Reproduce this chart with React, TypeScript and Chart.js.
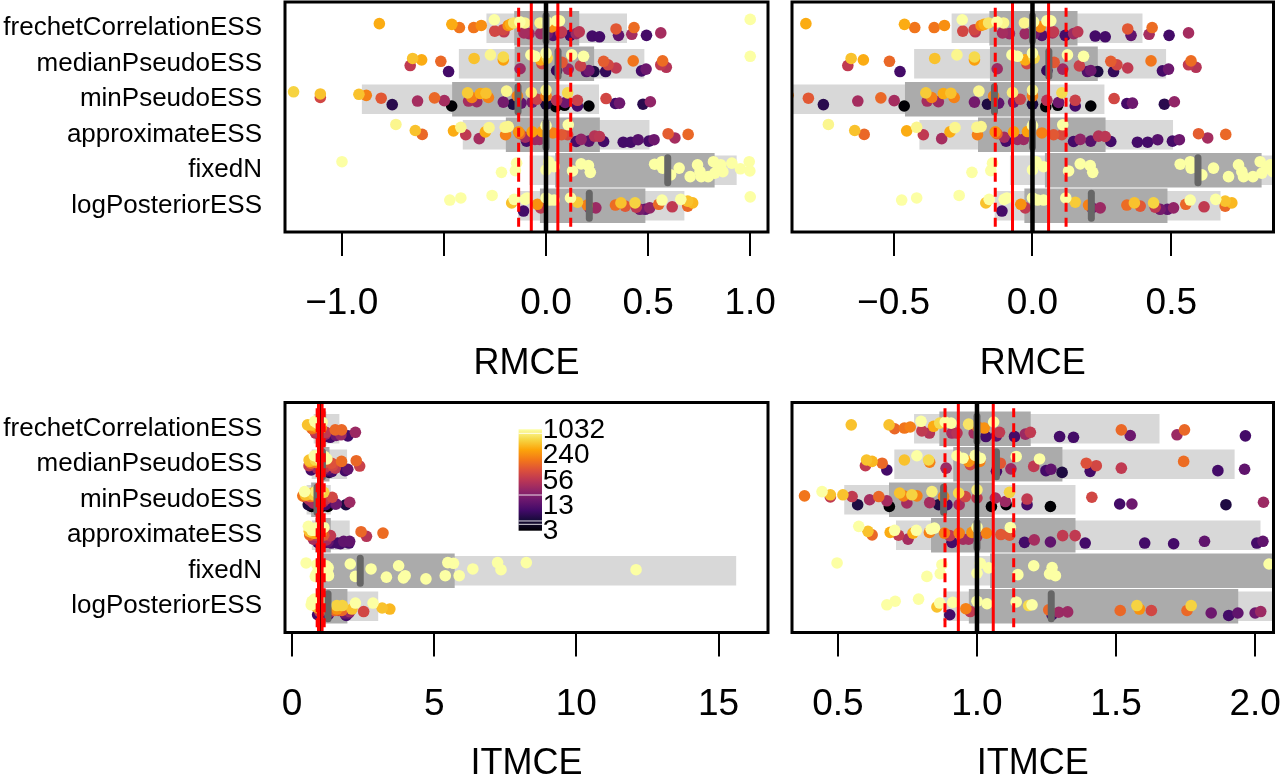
import React, { useEffect, useRef } from 'react';
import { Chart, registerables } from 'chart.js';

Chart.register(...registerables);
Chart.defaults.font.family = '"Liberation Sans", Arial, Helvetica, sans-serif';
Chart.defaults.color = '#000000';

// ---------------- categories ----------------
const categories = [
  'frechetCorrelationESS',
  'medianPseudoESS',
  'minPseudoESS',
  'approximateESS',
  'fixedN',
  'logPosteriorESS',
];

// ---------------- RMCE summaries ----------------
const rmceOuterLo = [-0.29, -0.425, -0.9, -0.406, -0.08, -0.135];
const rmceOuterHi = [0.395, 0.48, 0.258, 0.505, 0.932, 0.676];
const rmceInnerLo = [-0.154, -0.152, -0.458, -0.195, 0.046, -0.028];
const rmceInnerHi = [0.161, 0.234, 0.06, 0.262, 0.824, 0.485];
const rmceMedian = [0.0, 0.059, -0.137, 0.0, 0.596, 0.212];
const rmceRefCenter = 0;
const rmceRefSolid = [-0.072, 0.058];
const rmceRefDashed = [-0.134, 0.121];

// ---------------- ITMCE summaries ----------------
const itmceOuterLo = [0.775, 0.704, 0.524, 0.71, 0.94, 0.88];
const itmceOuterHi = [1.655, 1.925, 1.353, 2.018, 15.61, 3.02];
const itmceInnerLo = [0.866, 0.916, 0.685, 0.836, 1.048, 0.972];
const itmceInnerHi = [1.192, 1.306, 1.06, 1.353, 5.71, 1.938];
const itmceMedian = [1.0, 1.07, 0.88, 1.0, 2.4, 1.267];
const itmceRefCenter = 1;
const itmceRefSolid = [0.933, 1.0585];
const itmceRefDashed = [0.885, 1.132];

// ---------------- colour legend (ESS) ----------------
const legendTicks = [1032, 240, 56, 13, 3];

// ---------------- axis ticks ----------------
const rmceWideTicks = [-1, -0.5, 0, 0.5, 1];
const rmceWideTickLabels = ['\u22121.0', '', '0.0', '0.5', '1.0'];
const rmceZoomTicks = [-0.5, 0, 0.5];
const rmceZoomTickLabels = ['\u22120.5', '0.0', '0.5'];
const itmceWideTicks = [0, 5, 10, 15];
const itmceWideTickLabels = ['0', '5', '10', '15'];
const itmceZoomTicks = [0.5, 1, 1.5, 2];
const itmceZoomTickLabels = ['0.5', '1.0', '1.5', '2.0'];

// ---------------- RMCE points: [value, ESS, vertical jitter] ----------------
type P = [number, number, number];
const rmceFrechet: P[] = [
  [-0.816, 350, -0.13], [-0.461, 350, -0.11], [-0.424, 170, -0.02], [-0.354, 170, -0.02],
  [-0.317, 240, -0.08], [-0.253, 1032, -0.24], [-0.251, 80, 0.08], [-0.21, 80, 0.04],
  [-0.206, 60, 0.1], [-0.185, 240, -0.08], [-0.174, 350, -0.11], [-0.158, 700, -0.15],
  [-0.128, 1032, -0.18], [-0.104, 900, -0.15], [-0.108, 40, 0.13], [-0.083, 35, 0.15],
  [-0.026, 35, 0.15], [-0.029, 900, -0.15], [0.004, 1032, -0.18], [0.006, 20, 0.15],
  [0.028, 240, -0.04], [0.034, 12, 0.2], [0.052, 1032, -0.21], [0.066, 1032, -0.21],
  [0.072, 40, 0.13], [0.076, 60, 0.1], [0.118, 10, 0.2], [0.148, 35, 0.15],
  [0.163, 55, 0.1], [0.226, 10, 0.22], [0.262, 10, 0.24], [0.343, 110, 0.02],
  [0.355, 15, 0.2], [0.42, 40, 0.17], [0.431, 150, -0.02], [0.492, 10, 0.2],
  [0.562, 40, 0.13], [1.0, 1032, -0.25],
];
const rmceMedianPseudo: P[] = [
  [-0.665, 60, 0.05], [-0.653, 450, -0.15], [-0.609, 350, -0.11], [-0.515, 140, -0.07],
  [-0.477, 10, 0.22], [-0.352, 450, -0.15], [-0.272, 900, -0.25], [-0.209, 600, -0.19],
  [-0.209, 300, -0.11], [-0.127, 35, 0.14], [-0.074, 1032, -0.25], [-0.054, 1032, -0.21],
  [-0.026, 350, -0.11], [-0.02, 80, 0.0], [0.0, 1032, -0.3], [0.006, 600, -0.16],
  [0.052, 8, 0.19], [0.078, 110, -0.04], [0.109, 35, 0.15], [0.126, 1032, -0.25],
  [0.169, 70, 0.06], [0.184, 1032, -0.21], [0.198, 12, 0.22], [0.21, 18, 0.19],
  [0.235, 6, 0.22], [0.282, 120, -0.07], [0.292, 8, 0.22], [0.304, 80, 0.03],
  [0.343, 60, 0.12], [0.427, 170, -0.08], [0.468, 10, 0.2], [0.49, 18, 0.15],
  [0.562, 60, 0.03], [0.571, 150, -0.08], [0.589, 50, 0.1], [1.0, 1032, -0.21],
];
const rmceMinPseudo: P[] = [
  [-1.236, 550, -0.21], [-1.105, 450, -0.15], [-1.105, 80, -0.05], [-0.916, 450, -0.14],
  [-0.88, 200, -0.11], [-0.807, 110, -0.03], [-0.753, 7, 0.15], [-0.629, 40, 0.05],
  [-0.546, 140, -0.04], [-0.498, 40, 0.04], [-0.462, 3, 0.19], [-0.384, 500, -0.18],
  [-0.379, 40, 0.05], [-0.363, 200, -0.05], [-0.339, 35, 0.07], [-0.321, 350, -0.16],
  [-0.294, 450, -0.17], [-0.282, 200, -0.05], [-0.209, 20, 0.08], [-0.193, 900, -0.23],
  [-0.162, 6, 0.14], [-0.14, 200, -0.09], [-0.122, 15, 0.11], [-0.072, 800, -0.19],
  [-0.068, 20, 0.08], [-0.044, 70, 0.0], [0.0, 900, -0.26], [0.0, 200, -0.09],
  [0.0, 6, 0.14], [0.052, 50, 0.03], [0.048, 3, 0.21], [0.091, 3, 0.17],
  [0.094, 18, 0.09], [0.106, 600, -0.18], [0.154, 70, 0.03], [0.154, 10, 0.19],
  [0.21, 3, 0.19], [0.294, 80, -0.02], [0.34, 10, 0.12], [0.36, 18, 0.11],
  [0.475, 7, 0.14], [0.511, 30, 0.07],
];
const rmceApproximate: P[] = [
  [-0.735, 900, -0.29], [-0.64, 450, -0.12], [-0.606, 140, -0.01], [-0.453, 350, -0.11],
  [-0.417, 900, -0.21], [-0.393, 60, 0.0], [-0.327, 40, 0.11], [-0.297, 350, -0.08],
  [-0.279, 900, -0.2], [-0.198, 200, 0.0], [-0.2, 900, -0.21], [-0.185, 900, -0.23],
  [-0.134, 250, -0.08], [-0.128, 140, -0.03], [-0.102, 40, 0.07], [-0.095, 10, 0.18],
  [-0.068, 300, -0.08], [-0.054, 35, 0.13], [-0.032, 35, 0.13], [-0.018, 300, -0.09],
  [0.0, 1032, -0.26], [0.034, 200, -0.05], [0.076, 110, 0.0], [0.106, 90, 0.0],
  [0.109, 1032, -0.28], [0.148, 10, 0.19], [0.172, 30, 0.13], [0.21, 13, 0.18],
  [0.238, 50, 0.04], [0.262, 55, 0.05], [0.282, 10, 0.19], [0.378, 10, 0.21],
  [0.415, 10, 0.21], [0.451, 13, 0.14], [0.504, 10, 0.18], [0.529, 18, 0.14],
  [0.598, 120, -0.03], [0.631, 40, 0.09], [0.696, 140, -0.01],
];
const rmceFixedN: P[] = [
  [-0.999, 1032, -0.24], [-0.218, 1032, 0.06], [-0.144, 1032, -0.2], [-0.15, 1032, 0.01],
  [0.0, 1032, -0.01], [0.013, 1032, -0.24], [0.04, 1032, -0.1], [0.13, 1032, 0.02],
  [0.172, 1032, -0.18], [0.208, 1032, -0.13], [0.217, 1032, 0.06], [0.532, 1032, -0.17],
  [0.568, 1032, -0.24], [0.571, 1032, -0.06], [0.61, 1032, 0.13], [0.652, 1032, -0.06],
  [0.706, 1032, 0.18], [0.742, 1032, -0.15], [0.754, 1032, 0.04], [0.76, 1032, 0.18],
  [0.794, 1032, 0.18], [0.82, 1032, -0.24], [0.826, 1032, 0.08], [0.844, 1032, -0.06],
  [0.856, 1032, -0.15], [0.866, 1032, 0.04], [0.91, 1032, -0.2], [0.952, 1032, -0.04],
  [0.995, 1032, -0.24], [0.998, 1032, 0.02],
];
const rmceLogPosterior: P[] = [
  [-0.471, 1032, -0.16], [-0.417, 1032, -0.22], [-0.264, 1032, -0.29], [-0.168, 450, -0.08],
  [-0.156, 1032, -0.18], [-0.11, 10, 0.15], [-0.102, 1032, -0.18], [-0.092, 1032, -0.22],
  [-0.042, 250, -0.04], [-0.026, 60, 0.06], [0.0, 1032, -0.22], [0.018, 1032, -0.16],
  [0.04, 1032, -0.16], [0.12, 1032, -0.22], [0.154, 500, -0.1], [0.202, 200, -0.02],
  [0.214, 18, 0.06], [0.244, 35, 0.06], [0.34, 150, -0.02], [0.367, 450, -0.08],
  [0.388, 110, 0.01], [0.436, 550, -0.08], [0.442, 60, 0.04], [0.46, 20, 0.1],
  [0.486, 15, 0.1], [0.508, 30, 0.06], [0.552, 140, -0.04], [0.568, 1032, -0.16],
  [0.618, 60, 0.03], [0.66, 1032, -0.18], [0.694, 450, -0.13], [0.694, 140, 0.01],
  [0.718, 400, -0.08], [1.0, 1032, -0.25],
];

// ---------------- ITMCE points: [value, ESS, vertical jitter] ----------------
const itmceFrechet: P[] = [
  [0.548, 450, -0.11], [0.684, 450, -0.11], [0.704, 140, 0.0], [0.739, 170, -0.02],
  [0.76, 200, -0.05], [0.799, 1032, -0.21], [0.802, 60, 0.06], [0.829, 50, 0.12],
  [0.844, 350, -0.07], [0.866, 600, -0.16], [0.886, 1032, -0.19], [0.907, 1032, -0.16],
  [0.91, 40, 0.12], [0.928, 50, 0.12], [0.97, 700, -0.13], [0.99, 40, 0.12],
  [1.0, 200, -0.07], [1.026, 250, -0.02], [1.032, 10, 0.22], [1.06, 1032, -0.19],
  [1.07, 15, 0.2], [1.081, 60, 0.1], [1.135, 10, 0.22], [1.174, 35, 0.15],
  [1.192, 60, 0.1], [1.297, 10, 0.22], [1.347, 10, 0.24], [1.519, 140, 0.03],
  [1.551, 18, 0.19], [1.719, 35, 0.17], [1.746, 140, 0.03], [1.965, 10, 0.2],
  [2.23, 35, 0.1],
];
const itmceMedianPseudo: P[] = [
  [0.599, 60, 0.04], [0.603, 450, -0.12], [0.623, 400, -0.08], [0.659, 140, -0.03],
  [0.676, 10, 0.16], [0.739, 450, -0.12], [0.784, 1032, -0.24], [0.826, 600, -0.12],
  [0.83, 200, -0.06], [0.889, 35, 0.11], [0.928, 1032, -0.24], [0.95, 1032, -0.17],
  [0.97, 250, -0.08], [0.976, 80, 0.01], [0.994, 1032, -0.25], [1.012, 1032, -0.17],
  [1.01, 200, -0.08], [1.07, 10, 0.2], [1.084, 110, -0.03], [1.122, 35, 0.13],
  [1.141, 1032, -0.22], [1.204, 60, 0.06], [1.225, 1032, -0.15], [1.248, 10, 0.18],
  [1.266, 15, 0.14], [1.306, 6, 0.23], [1.393, 100, -0.03], [1.407, 10, 0.2],
  [1.429, 80, 0.04], [1.519, 60, 0.11], [1.743, 150, -0.08], [1.866, 10, 0.18],
  [1.962, 15, 0.14], [2.26, 140, -0.1], [2.38, 70, 0.05],
];
const itmceMinPseudo: P[] = [
  [0.38, 170, -0.11], [0.443, 1032, -0.23], [0.473, 450, -0.14], [0.473, 60, -0.08],
  [0.518, 450, -0.14], [0.551, 60, -0.09], [0.571, 6, 0.14], [0.614, 40, 0.0],
  [0.647, 140, -0.09], [0.676, 40, 0.03], [0.685, 3, 0.19], [0.722, 450, -0.19],
  [0.736, 200, -0.11], [0.748, 40, 0.09], [0.766, 550, -0.14], [0.784, 200, -0.11],
  [0.83, 40, 0.08], [0.838, 800, -0.23], [0.862, 6, 0.14], [0.88, 200, -0.09],
  [0.892, 10, 0.14], [0.934, 600, -0.19], [0.936, 40, 0.14], [0.958, 80, -0.09],
  [1.0, 800, -0.28], [1.0, 60, -0.05], [1.052, 3, 0.19], [1.066, 40, -0.05],
  [1.105, 3, 0.14], [1.102, 35, 0.05], [1.117, 550, -0.21], [1.18, 10, 0.14],
  [1.18, 60, -0.02], [1.264, 3, 0.19], [1.413, 80, -0.07], [1.513, 10, 0.12],
  [1.557, 18, 0.12], [1.895, 6, 0.14], [2.03, 35, 0.07],
];
const itmceApproximate: P[] = [
  [0.575, 1032, -0.25], [0.608, 450, -0.11], [0.623, 140, -0.01], [0.688, 350, -0.08],
  [0.704, 1032, -0.14], [0.718, 60, 0.0], [0.752, 40, 0.11], [0.77, 350, -0.06],
  [0.782, 1032, -0.14], [0.829, 200, -0.08], [0.835, 1032, -0.17], [0.847, 1032, -0.2],
  [0.883, 200, -0.06], [0.902, 60, 0.01], [0.91, 10, 0.2], [0.936, 200, -0.06],
  [0.95, 40, 0.11], [0.97, 40, 0.11], [0.982, 250, -0.08], [1.0, 1032, -0.23],
  [1.0, 40, 0.03], [1.034, 200, -0.06], [1.086, 110, -0.02], [1.12, 1032, -0.22],
  [1.117, 110, 0.0], [1.171, 10, 0.2], [1.206, 40, 0.13], [1.264, 15, 0.19],
  [1.308, 60, 0.01], [1.353, 60, 0.01], [1.389, 10, 0.22], [1.603, 10, 0.22],
  [1.707, 10, 0.24], [1.818, 15, 0.17], [2.006, 10, 0.22], [2.028, 15, 0.17],
  [2.43, 140, -0.1], [2.62, 50, 0.03], [3.2, 150, -0.06],
];
const itmceFixedN: P[] = [
  [0.497, 1032, -0.22], [0.82, 1032, 0.16], [0.868, 1032, 0.08], [0.874, 1032, -0.17],
  [1.0, 1032, 0.07], [1.012, 1032, -0.21], [1.042, 1032, -0.08], [1.147, 1032, 0.11],
  [1.204, 1032, -0.14], [1.261, 1032, 0.09], [1.27, 1032, -0.09], [1.282, 1032, 0.14],
  [2.05, 1032, -0.19], [2.23, 1032, 0.16], [2.78, 1032, -0.05], [3.32, 1032, 0.18],
  [3.75, 1032, -0.14], [3.92, 1032, 0.2], [3.98, 1032, 0.14], [4.71, 1032, 0.23],
  [5.39, 1032, 0.14], [5.48, 1032, -0.23], [5.68, 1032, -0.21], [5.88, 1032, 0.14],
  [6.36, 1032, -0.05], [7.23, 1032, -0.23], [7.35, 1032, -0.03], [8.24, 1032, -0.23],
  [12.1, 1032, -0.03],
];
const itmceLogPosterior: P[] = [
  [0.676, 1032, -0.04], [0.706, 1032, -0.14], [0.79, 1032, -0.2], [0.856, 450, 0.02],
  [0.866, 1032, -0.09], [0.902, 10, 0.24], [0.913, 1032, -0.11], [0.96, 200, 0.07],
  [0.976, 60, 0.15], [1.0, 1032, -0.14], [1.036, 1032, -0.07], [1.141, 1032, -0.12],
  [1.186, 600, -0.02], [1.198, 1032, -0.04], [1.258, 140, 0.1], [1.27, 10, 0.24],
  [1.294, 35, 0.17], [1.326, 35, 0.16], [1.515, 140, 0.12], [1.575, 550, -0.02],
  [1.584, 250, 0.08], [1.627, 80, 0.12], [1.755, 140, 0.12], [1.77, 550, -0.02],
  [1.842, 18, 0.19], [1.905, 10, 0.26], [1.938, 15, 0.19], [2.0, 18, 0.19],
  [2.02, 35, 0.15], [2.11, 450, 0.08], [2.23, 1032, -0.09], [2.52, 80, 0.15],
  [2.85, 1032, -0.09], [3.17, 450, 0.05], [3.44, 400, 0.08],
];

// ---------------- assembly ----------------
const METRICS: Record<string, any> = {
  rmce: {
    outerLo: rmceOuterLo, outerHi: rmceOuterHi, innerLo: rmceInnerLo, innerHi: rmceInnerHi,
    median: rmceMedian, center: rmceRefCenter, solid: rmceRefSolid, dashed: rmceRefDashed,
    points: [rmceFrechet, rmceMedianPseudo, rmceMinPseudo, rmceApproximate, rmceFixedN, rmceLogPosterior],
  },
  itmce: {
    outerLo: itmceOuterLo, outerHi: itmceOuterHi, innerLo: itmceInnerLo, innerHi: itmceInnerHi,
    median: itmceMedian, center: itmceRefCenter, solid: itmceRefSolid, dashed: itmceRefDashed,
    points: [itmceFrechet, itmceMedianPseudo, itmceMinPseudo, itmceApproximate, itmceFixedN, itmceLogPosterior],
  },
};

const INFERNO = ['#000004', '#160b39', '#420a68', '#6a176e', '#932667', '#bc3754',
  '#dd513a', '#f37819', '#fca50a', '#f6d746', '#fcffa4'];
const ESS_MIN = Math.min(...legendTicks);
const ESS_MAX = Math.max(...legendTicks);

function hexToRgb(h: string) {
  return [parseInt(h.slice(1, 3), 16), parseInt(h.slice(3, 5), 16), parseInt(h.slice(5, 7), 16)];
}
function inferno(t: number) {
  const tt = Math.max(0, Math.min(1, t));
  const s = tt * 10;
  const i = Math.min(9, Math.floor(s));
  const f = s - i;
  const a = hexToRgb(INFERNO[i]);
  const b = hexToRgb(INFERNO[i + 1]);
  const c = a.map((v, k) => Math.round(v + (b[k] - v) * f));
  return `rgb(${c[0]},${c[1]},${c[2]})`;
}
function essToT(ess: number) {
  return Math.log(ess / ESS_MIN) / Math.log(ESS_MAX / ESS_MIN);
}

const CANVAS_H = 390;
const BOX_H = 230;

const PANELS = [
  { id: 'tl', left: 0, top: 0, width: 780, padTop: 2, padL: 0, padR: 12, showY: true, metric: 'rmce',
    xMin: -1.278, xMax: 1.087, ticks: rmceWideTicks, tickLabels: rmceWideTickLabels, title: 'RMCE', legend: false },
  { id: 'tr', left: 780, top: 0, width: 502, padTop: 2, padL: 12, padR: 8.5, showY: false, metric: 'rmce',
    xMin: -0.866, xMax: 0.868, ticks: rmceZoomTicks, tickLabels: rmceZoomTickLabels, title: 'RMCE', legend: false },
  { id: 'bl', left: 0, top: 400, width: 780, padTop: 2.5, padL: 0, padR: 12, showY: true, metric: 'itmce',
    xMin: -0.246, xMax: 16.74, ticks: itmceWideTicks, tickLabels: itmceWideTickLabels, title: 'ITMCE', legend: true },
  { id: 'br', left: 780, top: 400, width: 502, padTop: 2.5, padL: 12, padR: 8.5, showY: false, metric: 'itmce',
    xMin: 0.335, xMax: 2.066, ticks: itmceZoomTicks, tickLabels: itmceZoomTickLabels, title: 'ITMCE', legend: false },
];

const framePlugin = {
  id: 'framePlugin',
  beforeDatasetDraw(chart: any, args: any) {
    if (chart.data.datasets[args.index].label === 'median') chart.ctx.lineCap = 'round';
  },
  afterDatasetDraw(chart: any, args: any) {
    if (chart.data.datasets[args.index].label === 'median') chart.ctx.lineCap = 'butt';
  },
  afterDraw(chart: any) {
    const { ctx, chartArea: a } = chart;
    const opts = chart.options.plugins.framePlugin || {};
    if (opts.legend) {
      const left = a.left + 233.6;
      const top = a.top + 26.8;
      const w = 23.4;
      const h = 101.4;
      ctx.save();
      const g = ctx.createLinearGradient(0, top + h, 0, top);
      INFERNO.forEach((c, i) => g.addColorStop(i / 10, c));
      ctx.fillStyle = g;
      ctx.fillRect(left, top, w, h);
      ctx.fillStyle = 'rgba(255,255,255,0.85)';
      [0.96, 0.352, 0.096, 0.063].forEach((t) => {
        ctx.fillRect(left, top + h * (1 - t) - 0.5, w, 1);
      });
      ctx.fillStyle = '#000';
      ctx.font = '28px "Liberation Sans", Arial, sans-serif';
      ctx.textAlign = 'left';
      ctx.textBaseline = 'middle';
      legendTicks.forEach((v) => {
        const y = top + h * (1 - essToT(v));
        ctx.fillText(String(v), left + w + 0.8, y + 1);
      });
      ctx.restore();
    }
    ctx.save();
    ctx.strokeStyle = '#000';
    ctx.lineWidth = 3;
    ctx.strokeRect(a.left, a.top, a.right - a.left, a.bottom - a.top);
    ctx.restore();
  },
};

function buildConfig(p: any) {
  const m = METRICS[p.metric];
  const pts: { x: number; y: number; ess: number }[] = [];
  m.points.forEach((arr: P[], ci: number) =>
    arr.forEach(([v, ess, dy]) => pts.push({ x: v, y: ci + dy, ess }))
  );
  pts.sort((a, b) => a.ess - b.ess);
  const colors = pts.map((q) => inferno(essToT(q.ess)));

  const vline = (v: number) => [{ x: v, y: -1 }, { x: v, y: 7 }];
  const axisH = CANVAS_H - p.padTop - BOX_H;

  const datasets: any[] = [
    {
      type: 'line', label: 'center', data: vline(m.center), borderColor: '#000000', borderWidth: 4.5,
      pointRadius: 0, fill: false, order: 0.5, clip: 0,
    },
    ...m.solid.map((v: number) => ({
      type: 'line', label: 'solid', data: vline(v), borderColor: '#ff0000', borderWidth: 3,
      pointRadius: 0, fill: false, order: 0, clip: 0,
    })),
    ...m.dashed.map((v: number) => ({
      type: 'line', label: 'dashed', data: vline(v), borderColor: '#ff0000', borderWidth: 3,
      borderDash: [9, 6], pointRadius: 0, fill: false, order: 0, clip: 0,
    })),
    {
      type: 'scatter', label: 'median', data: m.median.map((v: number, i: number) => ({ x: v, y: i })),
      pointStyle: 'line', pointRotation: 90, pointRadius: 12.5, pointBorderWidth: 7,
      pointBorderColor: '#666666', pointBackgroundColor: '#666666', order: 1, clip: 0,
    },
    {
      type: 'scatter', label: 'runs', data: pts.map((q) => ({ x: q.x, y: q.y })),
      pointRadius: 5.8, pointBorderWidth: 0, pointBackgroundColor: colors, pointBorderColor: colors,
      order: 2, clip: 0,
    },
    {
      type: 'bar', label: 'inner', indexAxis: 'y', grouped: false, barThickness: 34,
      data: categories.map((_, i) => ({ x: [m.innerLo[i], m.innerHi[i]], y: i })),
      backgroundColor: '#ababab', borderWidth: 0, order: 3, clip: 0,
    },
    {
      type: 'bar', label: 'outer', indexAxis: 'y', grouped: false, barThickness: 29,
      data: categories.map((_, i) => ({ x: [m.outerLo[i], m.outerHi[i]], y: i })),
      backgroundColor: '#d8d8d8', borderWidth: 0, order: 4, clip: 0,
    },
  ];

  return {
    type: 'scatter',
    data: { datasets },
    plugins: [framePlugin],
    options: {
      responsive: false,
      maintainAspectRatio: false,
      animation: false,
      events: [],
      devicePixelRatio: 1,
      layout: { autoPadding: false, padding: { top: p.padTop, left: p.padL, right: p.padR, bottom: 0 } },
      plugins: {
        legend: { display: false },
        tooltip: { enabled: false },
        framePlugin: { legend: p.legend },
      },
      scales: {
        x: {
          type: 'linear',
          min: p.xMin,
          max: p.xMax,
          offset: false,
          beginAtZero: false,
          afterBuildTicks: (s: any) => {
            s.ticks = p.ticks.map((v: number) => ({ value: v }));
          },
          afterFit: (s: any) => {
            s.height = axisH;
            s.paddingLeft = 0;
            s.paddingRight = 0;
          },
          ticks: {
            callback: (_v: any, i: number) => p.tickLabels[i],
            font: { size: 37 },
            color: '#000',
            padding: 25.8,
            autoSkip: false,
            maxRotation: 0,
            minRotation: 0,
          },
          grid: {
            display: true,
            drawOnChartArea: false,
            drawTicks: true,
            tickLength: 24,
            color: '#000',
            tickColor: '#000',
            lineWidth: 2,
            tickWidth: 2,
          },
          border: { display: false },
          title: {
            display: true,
            text: p.title,
            font: { size: 36 },
            color: '#000',
            padding: { top: 0, bottom: axisH - 132 - 21.6 },
          },
        },
        y: {
          type: 'linear',
          display: p.showY,
          min: -0.74,
          max: 5.74,
          reverse: true,
          offset: false,
          beginAtZero: false,
          afterBuildTicks: (s: any) => {
            s.ticks = categories.map((_, i) => ({ value: i }));
          },
          afterFit: (s: any) => {
            if (p.showY) s.width = 285;
            s.paddingTop = 0;
            s.paddingBottom = 0;
          },
          ticks: {
            callback: (v: any) => categories[Math.round(v)],
            font: { size: 26 },
            color: '#000',
            padding: 23,
            autoSkip: false,
          },
          grid: { display: false, drawTicks: false },
          border: { display: false },
        },
      },
    },
  };
}

function Panel({ p }: { p: any }) {
  const ref = useRef<HTMLCanvasElement>(null);
  useEffect(() => {
    const chart = new Chart(ref.current as HTMLCanvasElement, buildConfig(p) as any);
    return () => chart.destroy();
  }, []);
  return (
    <canvas
      ref={ref}
      width={p.width}
      height={CANVAS_H}
      style={{ position: 'absolute', left: p.left, top: p.top, width: p.width, height: CANVAS_H }}
    />
  );
}

export default function App() {
  return (
    <div
      style={{
        position: 'absolute', left: 0, top: 0, width: 1282, height: 778,
        overflow: 'hidden', background: '#ffffff',
      }}
    >
      {PANELS.map((p) => (
        <Panel key={p.id} p={p} />
      ))}
    </div>
  );
}
